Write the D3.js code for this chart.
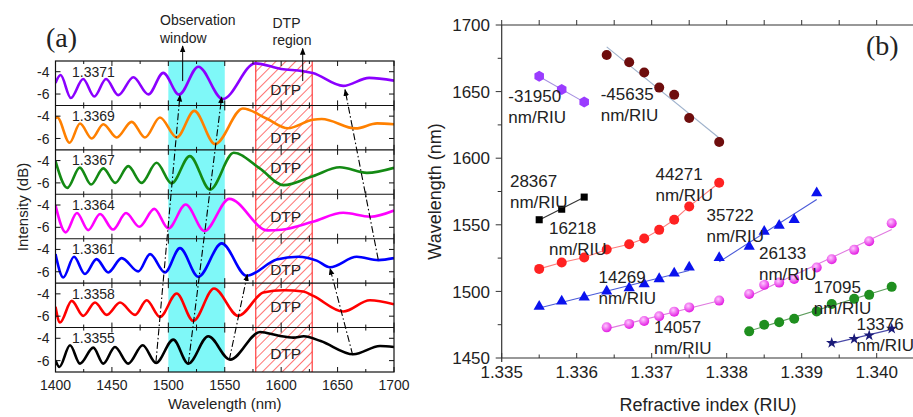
<!DOCTYPE html>
<html><head><meta charset="utf-8">
<script src="https://cdn.jsdelivr.net/npm/d3@7"></script>
<style>
body{margin:0;background:#fff}
svg{display:block}
text{font-family:"Liberation Sans",Arial,sans-serif;fill:#222}
</style>
</head><body>
<svg id="c" width="913" height="417"></svg>
<script>
// ---------------- DATA: panel (a) ----------------
const wavelengthTicks = [1400,1450,1500,1550,1600,1650,1700];
const intensityTicks = [-4,-6];
const stripLabels = ["1.3371","1.3369","1.3367","1.3364","1.3361","1.3358","1.3355"];
const observationWindow = [1500,1550];
const dtpRegion = [1577.5,1627.5];

const spec1371 = [[1400,-5.0],[1404.5,-4.3],[1413.6,-6.35],[1424.5,-4.65],[1434.4,-6.22],[1444.8,-4.65],[1455.7,-6.1],[1469,-4.5],[1482.3,-6.03],[1495.5,-4.1],[1509.5,-6.05],[1526.6,-3.55],[1548.2,-6.45],[1577,-3.25],[1600,-3.75],[1619,-3.95],[1628,-4.12],[1655,-5.27],[1678,-4.55],[1700,-4.8]];
const spec1369 = [[1400,-4.2],[1401.5,-4.1],[1412.5,-6.39],[1421.7,-4.66],[1432.1,-6.0],[1442.4,-4.72],[1454.2,-5.91],[1467.5,-4.51],[1479.3,-5.91],[1492.6,-4.12],[1507.4,-5.91],[1523,-3.53],[1541.4,-6.51],[1566,-3.31],[1587,-4.21],[1606,-5.08],[1628,-4.32],[1636,-4.25],[1666,-5.1],[1685,-4.65],[1700,-4.72]];
const spec1367 = [[1400,-4.05],[1410.5,-6.45],[1421.5,-4.63],[1431.5,-6.15],[1442.4,-4.7],[1453,-6.0],[1464.5,-4.5],[1476.3,-6.0],[1489.6,-4.2],[1502.9,-6.05],[1519,-3.6],[1537,-6.6],[1558,-3.3],[1581,-4.7],[1602,-6.2],[1628,-5.4],[1652,-4.6],[1676,-5.1],[1700,-4.65]];
const spec1364 = [[1400,-4.03],[1409,-6.45],[1419,-4.72],[1429,-6.25],[1439.5,-4.8],[1451,-6.2],[1462.5,-4.72],[1474.3,-5.95],[1487.6,-4.35],[1500,-6.1],[1515.4,-3.95],[1532,-6.33],[1554,-3.45],[1588,-6.27],[1600,-6.22],[1628,-5.5],[1655,-4.7],[1679,-5.05],[1700,-4.5]];
const spec1361 = [[1400,-4.42],[1406.9,-6.51],[1416.4,-4.66],[1426.1,-6.2],[1436.4,-4.87],[1446.8,-6.06],[1458.6,-4.78],[1473.4,-5.97],[1483.8,-4.42],[1497,-6.06],[1510.3,-3.88],[1526.6,-6.45],[1547.3,-3.46],[1569.4,-6.36],[1596,-4.9],[1615,-4.65],[1631.5,-5.0],[1643.3,-5.6],[1667,-4.66],[1686.2,-4.96],[1700,-4.78]];
const spec1358 = [[1400,-5.16],[1404,-6.57],[1414.4,-4.63],[1424.6,-5.97],[1435,-4.78],[1445.4,-5.88],[1457.2,-4.78],[1470.5,-5.88],[1480.8,-4.57],[1492.6,-6.06],[1507.4,-3.97],[1522.1,-6.42],[1540.5,-3.52],[1562,-5.97],[1584.2,-3.88],[1601.9,-3.67],[1619.6,-3.79],[1628.5,-4.18],[1655,-5.58],[1678.7,-4.57],[1700,-4.93]];
const spec1355 = [[1400,-5.97],[1403.4,-6.57],[1412.9,-4.63],[1421.7,-6.27],[1433.5,-4.84],[1442.4,-6.27],[1452.7,-4.78],[1464.5,-6.27],[1477.3,-4.63],[1489.1,-6.21],[1504.4,-4.12],[1517.7,-6.27],[1535.4,-3.82],[1554.7,-5.91],[1581.3,-3.44],[1598,-3.78],[1610.8,-3.94],[1620,-3.82],[1635,-4.25],[1664,-5.43],[1687.6,-4.69],[1700,-4.78]];
const spectra = [spec1371,spec1369,spec1367,spec1364,spec1361,spec1358,spec1355];
const spectraColors = ["#8b00ff","#ff8000","#148a14","#ff00ff","#0000ff","#ff0000","#000000"];

// dip-tracking dash-dot lines: [wavelength, strip index, dB]
const trackA = [[1489,6,-6.15],[1510.3,0,-6.1]];
const trackB = [[1517.7,6,-6.3],[1547.3,0,-6.25]];
const trackC = [[1554,6,-5.95],[1570,4,-6.25]];
const trackD = [[1663.4,6,-5.5],[1643.3,4,-5.7]];
const trackE = [[1686,4,-4.9],[1656.6,0,-5.6]];
const tracks = [trackA,trackB,trackC,trackD,trackE];
const dtpLabelDb = [-6.09,-6.45,-5.1,-5.52,-6.27,-5.61,-5.85];

// ---------------- DATA: panel (b) ----------------
const riTicks = [1.335,1.336,1.337,1.338,1.339,1.340];
const wlTicksB = [1450,1500,1550,1600,1650,1700];

const hexPurpleN = [1.3355,1.3358,1.3361];
const hexPurpleW = [1661.5,1651.5,1642.2];
const circMaroonN = [1.3364,1.3367,1.3369,1.3371,1.3373,1.3375,1.3379];
const circMaroonW = [1677.5,1672,1664.3,1653,1647.7,1630.2,1612.1];
const sqBlackN = [1.3355,1.3358,1.3361];
const sqBlackW = [1553.8,1561.7,1570.8];
const circRedN = [1.3355,1.3358,1.3361,1.3364,1.3367,1.3369,1.3371,1.3373,1.3375,1.3379];
const circRedW = [1516.9,1521.7,1525.4,1531.4,1535.4,1539.7,1546.2,1553.8,1563.8,1581.6];
const triBlueLowN = [1.3355,1.3358,1.3361,1.3364,1.3367,1.3369,1.3371,1.3373,1.3375];
const triBlueLowW = [1488.6,1492.6,1495.6,1500.1,1502.6,1505.6,1509.4,1513.6,1518.1];
const triBlueHighN = [1.3379,1.3383,1.3385,1.3387,1.3389,1.3392];
const triBlueHighW = [1525.2,1533.7,1544.9,1549.5,1553.8,1573.8];
const sphMagLowN = [1.3364,1.3367,1.3369,1.3371,1.3373,1.3375,1.3379];
const sphMagLowW = [1473,1475.6,1477.8,1481.3,1484.8,1488,1493.1];
const sphMagHighN = [1.3383,1.3385,1.3387,1.3389,1.3392,1.3394,1.3397,1.3399,1.3402];
const sphMagHighW = [1498.1,1504.9,1506.6,1509.4,1517.9,1524.1,1531.2,1537.7,1551.2];
const circGreenN = [1.3383,1.3385,1.3387,1.3389,1.3392,1.3394,1.3397,1.3399,1.3402];
const circGreenW = [1470,1475,1476.8,1479.5,1485,1490.6,1494.4,1497.4,1503.4];
const starNavyN = [1.3394,1.3397,1.3399,1.3402];
const starNavyW = [1461.3,1464.3,1467,1472];

// sensitivity annotations: text, anchor (RI, wavelength)
const sensLabels = [
  ["-31950",1.335088,1642.4],["-45635",1.33632,1643.7],["28367",1.33511,1578.2],
  ["16218",1.33563,1542.9],["44271",1.33705,1583.6],["35722",1.33773,1552.9],
  ["26133",1.33843,1524.1],["14269",1.33629,1506.1],["14057",1.33703,1468.5],
  ["17095",1.33916,1498.6],["13376",1.33973,1471.0]
];

// ---------------- DRAW ----------------
const svg = d3.select("#c");
const defs = svg.append("defs");

const pat = defs.append("pattern").attr("id","hatch").attr("patternUnits","userSpaceOnUse")
  .attr("width",7).attr("height",7).attr("patternTransform","rotate(45)");
pat.append("rect").attr("width",7).attr("height",7).attr("fill","#ffffff");
pat.append("line").attr("x1",0.5).attr("y1",0).attr("x2",0.5).attr("y2",7)
  .attr("stroke","#ff6464").attr("stroke-width",0.9);

defs.append("marker").attr("id","arr").attr("viewBox","0 0 10 10").attr("refX",9).attr("refY",5)
  .attr("markerWidth",7).attr("markerHeight",7).attr("markerUnits","userSpaceOnUse").attr("orient","auto")
  .append("path").attr("d","M0,1L10,5L0,9Z").attr("fill","#000");

const mg = defs.append("radialGradient").attr("id","magSph").attr("cx","40%").attr("cy","35%").attr("r","65%");
mg.append("stop").attr("offset","0%").attr("stop-color","#ffc8ff");
mg.append("stop").attr("offset","100%").attr("stop-color","#e21be2");

// ---- Panel (a)
const A = {x0:55.5,x1:394,y0:61,y1:372};
const stripH = (A.y1-A.y0)/7;
const xA = d3.scaleLinear().domain([1400,1700]).range([A.x0,A.x1]);
const yStrip = i => d3.scaleLinear().domain([-7.02,-3.04]).range([A.y0+(i+1)*stripH, A.y0+i*stripH]);

defs.append("clipPath").attr("id","clipA").append("rect")
  .attr("x",A.x0).attr("y",A.y0).attr("width",A.x1-A.x0).attr("height",A.y1-A.y0);

const gA = svg.append("g");
gA.append("rect").attr("x",xA(observationWindow[0])).attr("y",A.y0)
  .attr("width",xA(observationWindow[1])-xA(observationWindow[0])).attr("height",A.y1-A.y0)
  .attr("fill","#7ff8f8");
gA.append("rect").attr("x",xA(dtpRegion[0])).attr("y",A.y0)
  .attr("width",xA(dtpRegion[1])-xA(dtpRegion[0])).attr("height",A.y1-A.y0)
  .attr("fill","url(#hatch)");
dtpRegion.forEach(v=>gA.append("line").attr("x1",xA(v)).attr("x2",xA(v)).attr("y1",A.y0).attr("y2",A.y1)
  .attr("stroke","#ff2a2a").attr("stroke-width",1.1));

// DTP labels
dtpLabelDb.forEach((db,i)=>gA.append("text").attr("x",xA(1604)).attr("y",yStrip(i)(db))
  .attr("text-anchor","middle").attr("font-size",15.5).text("DTP"));

// curves
const curvesG = gA.append("g").attr("clip-path","url(#clipA)");
spectra.forEach((s,i)=>{
  const ys = yStrip(i);
  curvesG.append("path").datum(s)
    .attr("d",d3.line().x(d=>xA(d[0])).y(d=>ys(d[1])).curve(d3.curveMonotoneX))
    .attr("fill","none").attr("stroke",spectraColors[i]).attr("stroke-width",2.6)
    .attr("stroke-linejoin","round");
});

// frame & dividers
gA.append("rect").attr("x",A.x0).attr("y",A.y0).attr("width",A.x1-A.x0).attr("height",A.y1-A.y0)
  .attr("fill","none").attr("stroke","#111").attr("stroke-width",1.2);
for(let i=1;i<7;i++) gA.append("line").attr("x1",A.x0).attr("x2",A.x1)
  .attr("y1",A.y0+i*stripH).attr("y2",A.y0+i*stripH).attr("stroke","#111").attr("stroke-width",1.1);

// ticks
const tickG = gA.append("g").attr("stroke","#111").attr("stroke-width",1);
const xMinor = d3.range(1400,1701,25);
for(let i=0;i<7;i++){
  const t = A.y0+i*stripH, b = A.y0+(i+1)*stripH;
  xMinor.forEach(v=>{
    const L = v%50===0?5:3;
    tickG.append("line").attr("x1",xA(v)).attr("x2",xA(v)).attr("y1",t).attr("y2",t+L);
    tickG.append("line").attr("x1",xA(v)).attr("x2",xA(v)).attr("y1",b).attr("y2",b-L);
  });
  const ys = yStrip(i);
  intensityTicks.forEach(v=>{
    tickG.append("line").attr("x1",A.x0).attr("x2",A.x0+5).attr("y1",ys(v)).attr("y2",ys(v));
    tickG.append("line").attr("x1",A.x1).attr("x2",A.x1-5).attr("y1",ys(v)).attr("y2",ys(v));
    gA.append("text").attr("x",A.x0-6).attr("y",ys(v)).attr("dy","0.36em").attr("text-anchor","end")
      .attr("font-size",14).text(v);
  });
  gA.append("text").attr("x",A.x0+16.5).attr("y",t+15.5).attr("font-size",14).text(stripLabels[i]);
}
wavelengthTicks.forEach(v=>gA.append("text").attr("x",xA(v)).attr("y",389.5)
  .attr("text-anchor","middle").attr("font-size",14).text(v));
gA.append("text").attr("x",(A.x0+A.x1)/2).attr("y",409).attr("text-anchor","middle")
  .attr("font-size",15).text("Wavelength (nm)");
gA.append("text").attr("transform","translate(28,207) rotate(-90)").attr("text-anchor","middle")
  .attr("font-size",15).text("Intensity (dB)");

// dash-dot tracks
tracks.forEach(tr=>{
  gA.append("path").datum(tr)
    .attr("d",d3.line().x(d=>xA(d[0])).y(d=>yStrip(d[1])(d[2])))
    .attr("fill","none").attr("stroke","#000").attr("stroke-width",1.1)
    .attr("stroke-dasharray","7,2.5,1.5,2.5").attr("marker-end","url(#arr)");
});

// top annotations
gA.append("line").attr("x1",xA(1512.7)).attr("x2",xA(1512.7)).attr("y1",yStrip(0)(-4.84)).attr("y2",46)
  .attr("stroke","#000").attr("stroke-width",1).attr("marker-end","url(#arr)");
gA.append("line").attr("x1",xA(1619.1)).attr("x2",xA(1619.1)).attr("y1",yStrip(0)(-4.84)).attr("y2",48.5)
  .attr("stroke","#000").attr("stroke-width",1).attr("marker-end","url(#arr)");
gA.append("text").attr("x",160).attr("y",25).attr("font-size",14).text("Observation");
gA.append("text").attr("x",160).attr("y",42.5).attr("font-size",14).text("window");
gA.append("text").attr("x",272.5).attr("y",28.3).attr("font-size",14).text("DTP");
gA.append("text").attr("x",272.5).attr("y",44.5).attr("font-size",14).text("region");
gA.append("text").attr("x",46).attr("y",47).attr("font-size",28)
  .style("font-family","'Liberation Serif','Times New Roman',serif").text("(a)");

// ---- Panel (b)
const B = {x0:501.7,x1:914.2,y0:25,y1:358};
const xB = d3.scaleLinear().domain([1.335,1.3405]).range([B.x0,B.x1]);
const yB = d3.scaleLinear().domain([1450,1700]).range([B.y1,B.y0]);
const gB = svg.append("g");
const axC = "#333";
gB.append("line").attr("x1",B.x0).attr("x2",B.x0).attr("y1",B.y0).attr("y2",B.y1+4).attr("stroke",axC).attr("stroke-width",1.2);
gB.append("line").attr("x1",B.x0).attr("x2",913).attr("y1",B.y0).attr("y2",B.y0).attr("stroke",axC).attr("stroke-width",1.2);
gB.append("line").attr("x1",B.x0).attr("x2",913).attr("y1",B.y1).attr("y2",B.y1).attr("stroke",axC).attr("stroke-width",1.2);
const riMinor = d3.range(0,12).map(k=>1.335+k*0.0005);
riMinor.forEach((v,k)=>{
  const x = xB(v);
  gB.append("line").attr("x1",x).attr("x2",x).attr("y1",B.y0).attr("y2",B.y0-5).attr("stroke",axC);
  gB.append("line").attr("x1",x).attr("x2",x).attr("y1",B.y1).attr("y2",B.y1-(k%2===0?5:3.5)).attr("stroke",axC);
});
d3.range(1450,1701,25).forEach(v=>{
  gB.append("line").attr("x1",B.x0).attr("x2",B.x0-(v%50===0?6:4)).attr("y1",yB(v)).attr("y2",yB(v)).attr("stroke",axC);
});
wlTicksB.forEach(v=>gB.append("text").attr("x",490).attr("y",yB(v)).attr("dy","0.36em")
  .attr("text-anchor","end").attr("font-size",17).text(v));
riTicks.forEach(v=>gB.append("text").attr("x",xB(v)).attr("y",378)
  .attr("text-anchor","middle").attr("font-size",17).text(d3.format(".3f")(v)));
gB.append("text").attr("x",708).attr("y",411).attr("text-anchor","middle").attr("font-size",18)
  .text("Refractive index (RIU)");
gB.append("text").attr("transform","translate(441,191.5) rotate(-90)").attr("text-anchor","middle")
  .attr("font-size",18).text("Wavelength (nm)");
gB.append("text").attr("x",866).attr("y",55).attr("font-size",28)
  .style("font-family","'Liberation Serif','Times New Roman',serif").text("(b)");

function zip(N,Wv){return N.map((n,i)=>[n,Wv[i]]);}
function fitLine(pts){
  const mx=d3.mean(pts,d=>d[0]), my=d3.mean(pts,d=>d[1]);
  const sxy=d3.sum(pts,d=>(d[0]-mx)*(d[1]-my)), sxx=d3.sum(pts,d=>(d[0]-mx)**2);
  const k=sxy/sxx, lo=d3.min(pts,d=>d[0]), hi=d3.max(pts,d=>d[0]);
  return [[lo,my+k*(lo-mx)],[hi,my+k*(hi-mx)]];
}
const hexPath = r => "M"+d3.range(6).map(k=>{const a=-Math.PI/2+k*Math.PI/3;return [r*Math.cos(a),r*Math.sin(a)];}).join("L")+"Z";
const seriesB = [
  {pts:zip(hexPurpleN,hexPurpleW), fit:"lin", line:"#a58fe0", fill:"#9a3cff", shape:"hex"},
  {pts:zip(circMaroonN,circMaroonW), fit:"lin", line:"#9fb2cc", fill:"#6e0d0d", shape:"circle"},
  {pts:zip(sqBlackN,sqBlackW), fit:"lin", line:"#333", fill:"#000", shape:"square"},
  {pts:zip(circRedN,circRedW), fit:"poly", line:"#ff7a7a", fill:"#ff2222", shape:"circle"},
  {pts:zip(triBlueLowN,triBlueLowW), fit:"lin", line:"#4a5ad8", fill:"#0a12ee", shape:"tri"},
  {pts:zip(triBlueHighN,triBlueHighW), fit:"lin", line:"#4a5ad8", fill:"#0a12ee", shape:"tri"},
  {pts:zip(sphMagLowN,sphMagLowW), fit:"lin", line:"#e07ae0", fill:"url(#magSph)", shape:"circle"},
  {pts:zip(sphMagHighN,sphMagHighW), fit:"lin", line:"#e07ae0", fill:"url(#magSph)", shape:"circle"},
  {pts:zip(circGreenN,circGreenW), fit:"lin", line:"#5c9c5c", fill:"#1f8f1f", shape:"circle"},
  {pts:zip(starNavyN,starNavyW), fit:"lin", line:"#4a4aa8", fill:"#1a1a78", shape:"star"}
];
const lineB = d3.line().x(d=>xB(d[0])).y(d=>yB(d[1]));
seriesB.forEach(s=>{
  const lp = s.fit==="lin"?fitLine(s.pts):s.pts;
  gB.append("path").attr("d",lineB(lp)).attr("fill","none").attr("stroke",s.line).attr("stroke-width",1.1);
});
seriesB.forEach(s=>{
  s.pts.forEach(p=>{
    const x=xB(p[0]), y=yB(p[1]);
    let d;
    if(s.shape==="circle"){ gB.append("circle").attr("cx",x).attr("cy",y).attr("r",5).attr("fill",s.fill); return; }
    if(s.shape==="hex") d=hexPath(5.5);
    if(s.shape==="square") d=d3.symbol(d3.symbolSquare,50)();
    if(s.shape==="tri") d=d3.symbol(d3.symbolTriangle,55)();
    if(s.shape==="star") d=d3.symbol(d3.symbolStar,40)();
    gB.append("path").attr("d",d).attr("transform",`translate(${x},${y})`).attr("fill",s.fill);
  });
});
sensLabels.forEach(l=>{
  const t = gB.append("text").attr("x",xB(l[1])).attr("y",yB(l[2])).attr("font-size",17);
  t.append("tspan").text(l[0]);
  t.append("tspan").attr("x",xB(l[1])).attr("dy",21).text("nm/RIU");
});
</script>
</body></html>
